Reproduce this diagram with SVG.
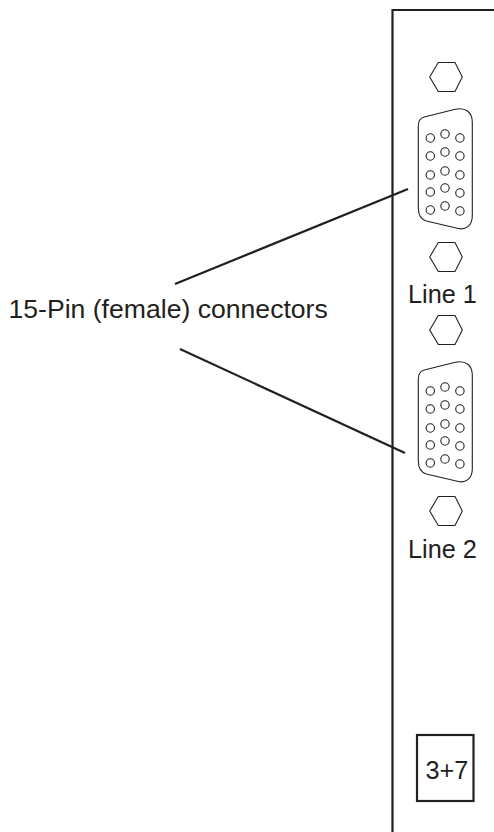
<svg xmlns="http://www.w3.org/2000/svg" width="494" height="832" viewBox="0 0 494 832">
<defs>
<style>
.l{fill:none;stroke:#231f20;stroke-width:2.2}
.t{fill:none;stroke:#231f20;stroke-width:1.1}
text{font-family:"Liberation Sans",Arial,sans-serif;fill:#231f20;font-size:25.300px}
</style>
<g id="dsub">
<path class="t" d="M6 9L36 1.500C48 -1.500 54 5 54 14V108C54 118 47 122 40 120.500L8 113C2 111 0 106 0 100V18C0 13 2 10 6 9Z"/>
<g class="t">
<circle cx="12" cy="30" r="4.200"/><circle cx="12" cy="48" r="4.200"/><circle cx="12" cy="67" r="4.200"/><circle cx="12" cy="84" r="4.200"/><circle cx="12" cy="102" r="4.200"/>
<circle cx="26.700" cy="26" r="4.200"/><circle cx="26.700" cy="44" r="4.200"/><circle cx="26.700" cy="63" r="4.200"/><circle cx="26.700" cy="80" r="4.200"/><circle cx="26.700" cy="98" r="4.200"/>
<circle cx="41.600" cy="30" r="4.200"/><circle cx="41.600" cy="48" r="4.200"/><circle cx="41.600" cy="67" r="4.200"/><circle cx="41.600" cy="85" r="4.200"/><circle cx="41.600" cy="103" r="4.200"/>
</g>
</g>
<polygon id="hex" class="t" points="-16.300,0 -7.700,-14.500 9,-14.500 16.300,0 9,14.500 -7.700,14.500"/>
</defs>
<g id="panel"><path class="l" d="M494 10H392.500V832"/></g>
<g id="connector-1"><use href="#hex" x="446" y="77"/><use href="#dsub" x="418.300" y="108"/><use href="#hex" x="446" y="257"/><text x="408" y="303">Line 1</text></g>
<g id="connector-2"><use href="#hex" x="446" y="330"/><use href="#dsub" x="418.300" y="361"/><use href="#hex" x="446" y="511"/><text x="408" y="558">Line 2</text></g>
<g id="label"><text x="8.500" y="318" style="font-size:26.600px">15-Pin (female) connectors</text></g>
<g id="box"><rect class="l" x="417" y="735" width="56.500" height="66"/><text x="425.500" y="779">3+7</text></g>
<g id="connectors"><line class="l" x1="175" y1="284" x2="408" y2="189"/><line class="l" x1="180" y1="349" x2="405" y2="453"/></g>
</svg>
